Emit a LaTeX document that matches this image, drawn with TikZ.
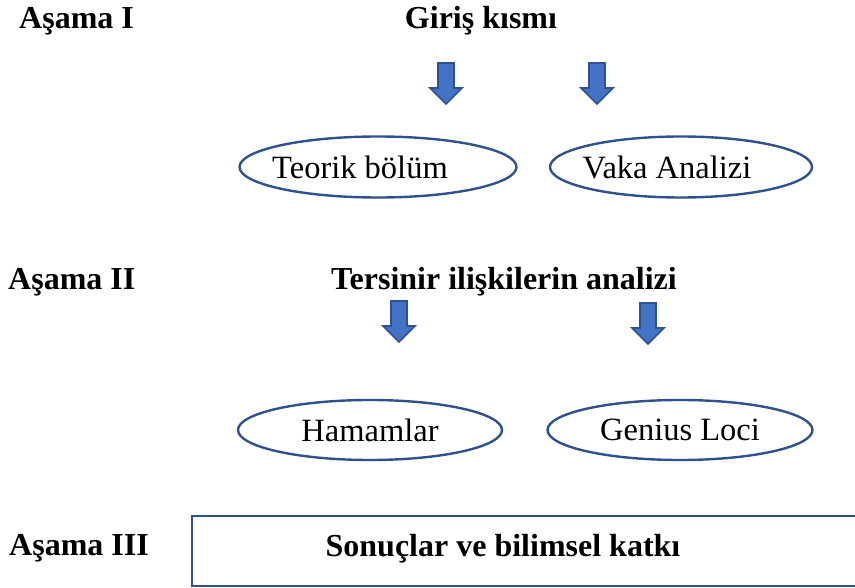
\documentclass[tikz,border=0pt]{standalone}
\usepackage{fontspec}
\setmainfont{Liberation Serif}
\usetikzlibrary{shapes.geometric}
\definecolor{arrowfill}{HTML}{4472C4}
\definecolor{edgeblue}{HTML}{2F528F}
\tikzset{
  stage/.style={font=\fontsize{32}{36}\selectfont\bfseries, inner sep=0pt},
  heading/.style={font=\fontsize{32}{36}\selectfont\bfseries, inner sep=0pt},
  oval/.style={ellipse, draw=edgeblue, line width=2.4pt, inner sep=0pt},
  ovaltext/.style={font=\fontsize{32.5}{36}\selectfont, inner sep=0pt},
  blockarrow/.style={fill=arrowfill, draw=edgeblue, line width=1.6pt, line join=miter},
  downarrow/.pic={\path[blockarrow] (-8,0) -- (8,0) -- (8,25) -- (16,25) -- (0,41) -- (-16,25) -- (-8,25) -- cycle;}
}
\begin{document}
\begin{tikzpicture}[x=1pt,y=-1pt]
\useasboundingbox (0,0) rectangle (855,588);
% stage labels
\node[stage, anchor=base west] (s1) at (19,29) {Aşama I};
\node[stage, anchor=base west] (s2) at (8,290) {Aşama II};
\node[stage, anchor=base west] (s3) at (9,555) {Aşama III};
% headings
\node[heading, anchor=base] (h1) at (481,29) {Giriş kısmı};
\node[heading, anchor=base] (h2) at (504,290) {Tersinir ilişkilerin analizi};
% arrows
\pic (a1) at (446,63) {downarrow};
\pic (a2) at (597,63) {downarrow};
\pic (a3) at (399,301) {downarrow};
\pic (a4) at (648,303) {downarrow};
% ellipses
\node[oval, minimum width=277pt, minimum height=61pt] (e1) at (378,167) {};
\node[oval, minimum width=262pt, minimum height=61pt] (e2) at (681,167) {};
\node[oval, minimum width=264pt, minimum height=60pt] (e3) at (370,430) {};
\node[oval, minimum width=265pt, minimum height=60pt] (e4) at (680,430) {};
\node[ovaltext] (t1) at ([xshift=-18pt]e1.center) {Teorik bölüm};
\node[ovaltext] (t2) at ([xshift=-14pt]e2.center) {Vaka Analizi};
\node[ovaltext] (t3) at (e3.center) {Hamamlar};
\node[ovaltext] (t4) at (e4.center) {Genius Loci};
% result box
\coordinate (r1) at (858,516);
\coordinate (r2) at (192,516);
\coordinate (r3) at (192,586);
\coordinate (r4) at (858,586);
\draw[edgeblue, line width=2.4pt] (r1) -- (r2) -- (r3) -- (r4);
\node[heading, anchor=base] (res) at (503,556) {Sonuçlar ve bilimsel katkı};
\end{tikzpicture}
\end{document}
